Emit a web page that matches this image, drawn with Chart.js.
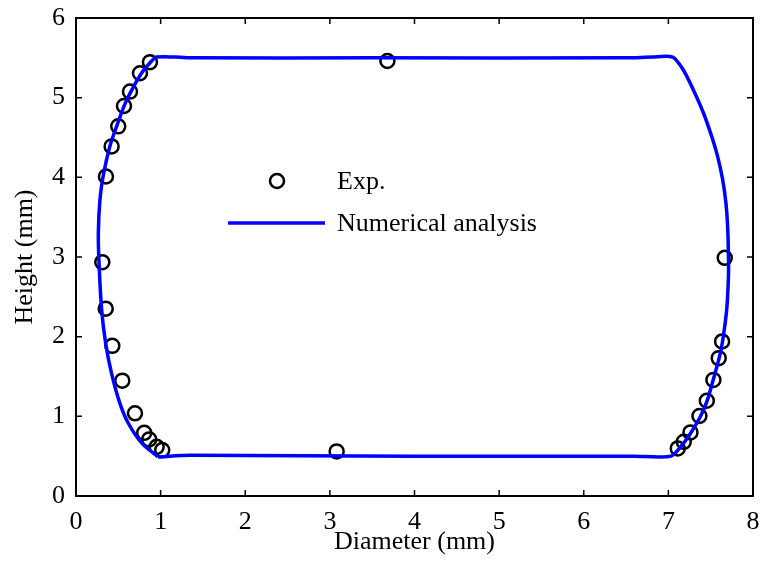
<!DOCTYPE html>
<html>
<head>
<meta charset="utf-8">
<script src="https://cdn.jsdelivr.net/npm/chart.js@4"></script>
<style>
  html, body { margin: 0; padding: 0; background: #fff; }
  #wrap { width: 763px; height: 568px; }
</style>
</head>
<body>
<div id="wrap"><canvas id="profileChart"></canvas></div>
<script>
// Medidas experimentales (mm)
const expX = [0.874, 0.756, 0.638, 0.567, 0.499, 0.421, 0.354, 0.311, 0.351, 0.429, 0.547, 0.697, 0.806, 0.865, 0.953, 1.019,
              3.68, 3.08,
              7.666, 7.635, 7.595, 7.532, 7.454, 7.367, 7.261, 7.182, 7.111];
const expY = [5.446, 5.307, 5.076, 4.895, 4.640, 4.388, 4.010, 2.935, 2.351, 1.885, 1.448, 1.038, 0.793, 0.710, 0.617, 0.576,
              5.46, 0.56,
              2.990, 1.940, 1.730, 1.457, 1.196, 1.004, 0.798, 0.680, 0.597];

// Perfil del análisis numérico (contorno cerrado: lado izq., arriba, lado der., abajo)
const simX = [0.97, 0.78, 0.62, 0.52, 0.42, 0.35, 0.303, 0.272, 0.264, 0.283, 0.32, 0.40, 0.48, 0.57, 0.646, 0.776, 0.894, 0.95,
              1.17, 1.40, 3.50, 6.50, 6.81, 7.05,
              7.17, 7.29, 7.41, 7.51, 7.58, 7.64, 7.68, 7.70, 7.71, 7.71, 7.69, 7.64, 7.60, 7.53, 7.46, 7.38, 7.27, 7.17, 7.03,
              6.60, 4.00, 1.35, 0.97];
const simY = [0.49, 0.66, 0.91, 1.16, 1.54, 1.92, 2.34, 2.93, 3.30, 3.72, 4.01, 4.39, 4.64, 4.90, 5.07, 5.31, 5.46, 5.51,
              5.51, 5.50, 5.50, 5.50, 5.51, 5.51,
              5.36, 5.11, 4.82, 4.52, 4.27, 3.98, 3.68, 3.39, 3.01, 2.76, 2.35, 1.94, 1.73, 1.46, 1.20, 1.00, 0.80, 0.65, 0.50,
              0.50, 0.50, 0.51, 0.49];

const xTicks = [0, 1, 2, 3, 4, 5, 6, 7, 8];
const yTicks = [0, 1, 2, 3, 4, 5, 6];

const FONT = "'Liberation Serif', 'DejaVu Serif', serif";
const FONT_SIZE = 26;

const expPoints = expX.map((x, i) => ({ x: x, y: expY[i] }));
const simPoints = simX.map((x, i) => ({ x: x, y: simY[i] }));

// Marco con marcas hacia adentro en los cuatro lados
const frameTicks = {
  id: 'frameTicks',
  afterDatasetsDraw(chart) {
    const { ctx, chartArea: a, scales: { x, y } } = chart;
    const len = 6;
    ctx.save();
    ctx.strokeStyle = '#000';
    ctx.lineWidth = 1.5;
    ctx.beginPath();
    xTicks.forEach(v => {
      const px = x.getPixelForValue(v);
      ctx.moveTo(px, a.bottom); ctx.lineTo(px, a.bottom - len);
      ctx.moveTo(px, a.top); ctx.lineTo(px, a.top + len);
    });
    yTicks.forEach(v => {
      const py = y.getPixelForValue(v);
      ctx.moveTo(a.left, py); ctx.lineTo(a.left + len, py);
      ctx.moveTo(a.right, py); ctx.lineTo(a.right - len, py);
    });
    ctx.stroke();
    ctx.lineWidth = 2;
    ctx.strokeRect(a.left, a.top, a.right - a.left, a.bottom - a.top);
    ctx.restore();
  }
};

// Leyenda dentro del área de la gráfica
const innerLegend = {
  id: 'innerLegend',
  afterDraw(chart) {
    const { ctx } = chart;
    const exp = chart.data.datasets[0];
    const sim = chart.data.datasets[1];
    const textX = 337;
    ctx.save();
    ctx.font = FONT_SIZE + 'px ' + FONT;
    ctx.fillStyle = '#000';
    ctx.textBaseline = 'middle';

    ctx.beginPath();
    ctx.arc(277, 181, exp.pointRadius, 0, Math.PI * 2);
    ctx.strokeStyle = exp.borderColor;
    ctx.lineWidth = exp.borderWidth;
    ctx.stroke();
    ctx.fillText(exp.label, textX, 182);

    ctx.beginPath();
    ctx.moveTo(228, 223); ctx.lineTo(325, 223);
    ctx.strokeStyle = sim.borderColor;
    ctx.lineWidth = sim.borderWidth;
    ctx.stroke();
    ctx.fillText(sim.label, textX, 224);
    ctx.restore();
  }
};

new Chart(document.getElementById('profileChart'), {
  type: 'scatter',
  data: {
    datasets: [
      {
        label: 'Exp.',
        data: expPoints,
        pointStyle: 'circle',
        pointRadius: 7,
        pointHoverRadius: 7,
        backgroundColor: 'rgba(0,0,0,0)',
        borderColor: '#000',
        borderWidth: 2.5,
        order: 1
      },
      {
        label: 'Numerical analysis',
        data: simPoints,
        showLine: true,
        tension: 0.25,
        pointRadius: 0,
        borderColor: '#0000ff',
        borderWidth: 3.5,
        fill: false,
        order: 0
      }
    ]
  },
  options: {
    responsive: true,
    maintainAspectRatio: false,
    animation: false,
    layout: { padding: { top: 18, right: 10, left: 0, bottom: 0 } },
    plugins: {
      legend: { display: false },
      tooltip: { enabled: false }
    },
    scales: {
      x: {
        type: 'linear',
        min: 0,
        max: 8,
        afterFit: s => { s.height = 72; s.paddingLeft = 0; s.paddingRight = 0; },
        afterBuildTicks: s => { s.ticks = xTicks.map(v => ({ value: v })); },
        grid: { display: false, drawTicks: false },
        border: { display: false },
        ticks: { color: '#000', font: { family: FONT, size: FONT_SIZE }, padding: 11 },
        title: { display: true, text: 'Diameter (mm)', color: '#000', font: { family: FONT, size: FONT_SIZE }, padding: { top: 0, bottom: 10 } }
      },
      y: {
        type: 'linear',
        min: 0,
        max: 6,
        afterFit: s => { s.width = 76; s.paddingTop = 0; s.paddingBottom = 0; },
        afterBuildTicks: s => { s.ticks = yTicks.map(v => ({ value: v })); },
        grid: { display: false, drawTicks: false },
        border: { display: false },
        ticks: { color: '#000', font: { family: FONT, size: FONT_SIZE }, padding: 11 },
        title: { display: true, text: 'Height (mm)', color: '#000', font: { family: FONT, size: FONT_SIZE }, padding: { top: 10, bottom: 0 } }
      }
    }
  },
  plugins: [frameTicks, innerLegend]
});
</script>
</body>
</html>
